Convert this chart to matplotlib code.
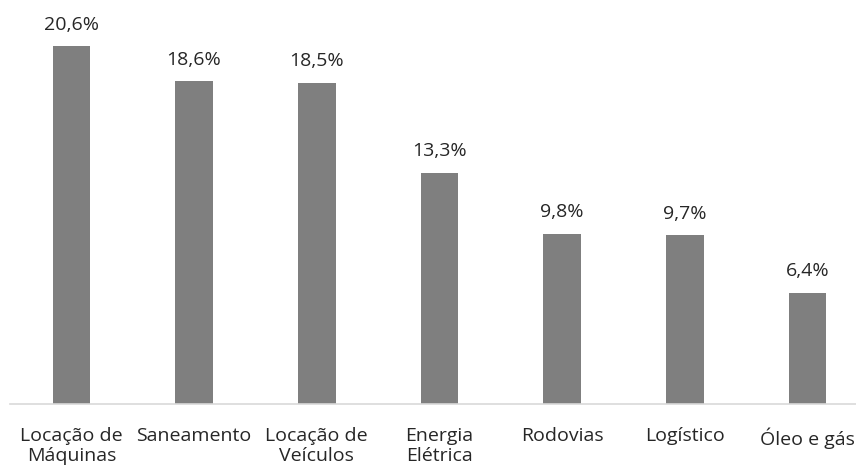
import matplotlib.pyplot as plt

categorias = ['Locação de\nMáquinas', 'Saneamento', 'Locação de\nVeículos',
              'Energia\nElétrica', 'Rodovias', 'Logístico', 'Óleo e gás']
valores = [20.6, 18.6, 18.5, 13.3, 9.8, 9.7, 6.4]
rotulos = ['20,6%', '18,6%', '18,5%', '13,3%', '9,8%', '9,7%', '6,4%']

plt.rcParams['font.family'] = ['Open Sans', 'DejaVu Sans']

fig = plt.figure(figsize=(8.56, 4.7), dpi=100)
ax = fig.add_axes([10 / 856, 66.5 / 470, 846 / 856, 403.5 / 470])

x = range(len(categorias))
barras = ax.bar(x, valores, width=0.307, color='#7f7f7f')

for b, r in zip(barras, rotulos):
    ax.annotate(r, (b.get_x() + b.get_width() / 2, b.get_height()),
                xytext=(0, 9), textcoords='offset points',
                ha='center', va='bottom', fontsize=14, color='#262626')

ax.set_xlim(-0.5, 6.395)
ax.set_ylim(0, 23.28)
ax.set_xticks(list(x))
ax.set_xticklabels(categorias, fontsize=14, color='#262626', linespacing=1.12)
ax.tick_params(axis='x', length=0, pad=17)
ax.set_yticks([])
for s in ['top', 'right', 'left']:
    ax.spines[s].set_visible(False)
ax.spines['bottom'].set_color('#d9d9d9')
ax.spines['bottom'].set_linewidth(1.2)

fig.savefig('out.png', dpi=100)
